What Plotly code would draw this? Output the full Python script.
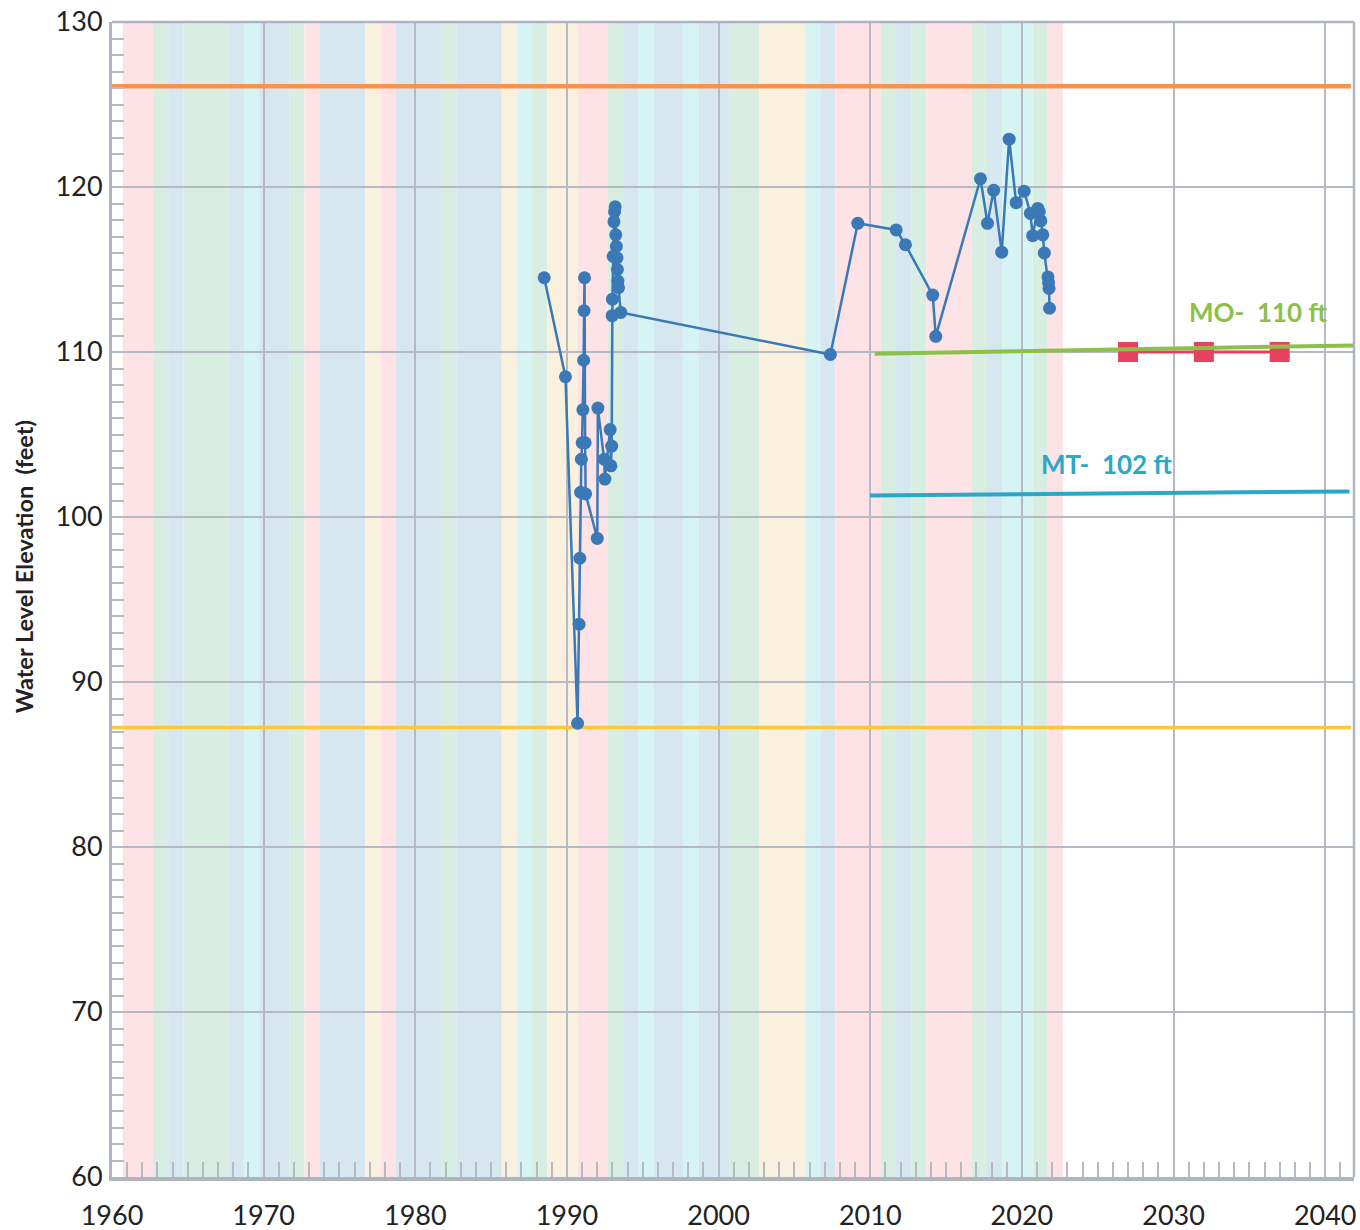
"""
Hydrograph - groundwater level elevation with water year type bands,
measurable objective / minimum threshold lines and interim milestones.
"""

import plotly.graph_objects as go


# Colour scheme
WELL_COLOR = "#3b78b6"
TOP_COLOR = "#f7934f"
BOTTOM_COLOR = "#fcc73f"
MO_COLOR = "#8dc04b"
MT_COLOR = "#2aa8c9"
IM_COLOR = "#e8405f"
GRID_COLOR = "#b4b9c3"
AXIS_COLOR = "#aeb5c0"
FONT = "Lato, 'Open Sans', sans-serif"

BAND_COLORS = {
    "W": "#fde2e6",   # pink
    "AN": "#d9eee2",  # green
    "BN": "#d7e7ef",  # blue-grey
    "D": "#d6f4f4",   # cyan
    "C": "#faf0de",   # cream
}

# Water year type bands (start year of each band, type)
band_start = [1960.7, 1962.7, 1963.7, 1964.7, 1967.7, 1968.7, 1969.7, 1971.7,
              1972.7, 1973.7, 1976.7, 1977.7, 1978.7, 1981.7, 1982.7, 1985.7,
              1986.7, 1987.7, 1988.7, 1990.7, 1992.7, 1993.7, 1994.7, 1995.7,
              1997.7, 1998.7, 2000.7, 2002.7, 2005.7, 2006.7, 2007.7, 2010.7,
              2011.7, 2012.7, 2013.7, 2016.7, 2017.7, 2018.7, 2020.7, 2021.7]
band_end_last = 2022.7
band_type = ["W", "AN", "BN", "AN", "BN", "D", "BN", "AN",
             "W", "BN", "C", "W", "BN", "AN", "BN", "C",
             "D", "AN", "C", "W", "AN", "BN", "D", "BN",
             "D", "BN", "AN", "C", "D", "BN", "W", "AN",
             "BN", "AN", "W", "AN", "BN", "D", "AN", "W"]

# Measured water levels
well_year = [1988.5, 1989.9, 1990.70, 1990.80, 1990.85, 1990.90, 1990.95,
             1991.00, 1991.05, 1991.10, 1991.13, 1991.16, 1991.20, 1991.23,
             1992.00, 1992.04, 1992.45, 1992.50, 1992.85, 1992.90, 1992.95,
             1992.98, 1993.00, 1993.05, 1993.10, 1993.14, 1993.18, 1993.22,
             1993.26, 1993.30, 1993.33, 1993.36, 1993.40, 1993.55,
             2007.37, 2009.18, 2011.71, 2012.32, 2014.12, 2014.32,
             2017.27, 2017.73, 2018.14, 2018.67, 2019.16, 2019.62, 2020.15,
             2020.56, 2020.71, 2021.05, 2021.15, 2021.25, 2021.38, 2021.48,
             2021.72, 2021.76, 2021.79, 2021.82]
well_level = [114.5, 108.5, 87.5, 93.5, 97.5, 101.5, 103.5,
              104.5, 106.5, 109.5, 112.5, 114.5, 104.5, 101.4,
              98.7, 106.6, 103.5, 102.3, 105.3, 103.1, 104.3,
              112.2, 113.2, 115.8, 117.9, 118.5, 118.8, 117.1,
              116.4, 115.7, 115.0, 114.3, 113.9, 112.4,
              109.85, 117.8, 117.4, 116.5, 113.45, 110.95,
              120.5, 117.8, 119.8, 116.05, 122.9, 119.05, 119.75,
              118.4, 117.05, 118.7, 118.5, 117.95, 117.1, 116.0,
              114.55, 114.2, 113.85, 112.65]

# Reference lines
top_year = [1960, 2041.7]
top_level = [126.1, 126.1]
bottom_year = [1960, 2041.7]
bottom_level = [87.25, 87.25]
mo_year = [2010.3, 2041.9]
mo_level = [109.9, 110.4]
mt_year = [2010.0, 2041.6]
mt_level = [101.3, 101.55]

# Interim milestones
im_year = [2027, 2032, 2037]
im_level = [110, 110, 110]

x_ticks = list(range(1960, 2041, 10))
y_ticks = list(range(60, 131, 10))


fig = go.Figure()

# Water year type bands
shapes = []
band_end = band_start[1:] + [band_end_last]
for x0, x1, t in zip(band_start, band_end, band_type):
    shapes.append(dict(
        type="rect", xref="x", yref="paper", x0=x0, x1=x1, y0=0, y1=1,
        fillcolor=BAND_COLORS[t], line=dict(width=0), layer="below"
    ))
# Top and right frame
shapes.append(dict(type="line", xref="paper", yref="paper", x0=0, x1=1, y0=1, y1=1,
                   line=dict(color=AXIS_COLOR, width=2.5), layer="above"))
shapes.append(dict(type="line", xref="paper", yref="paper", x0=1, x1=1, y0=0, y1=1,
                   line=dict(color=AXIS_COLOR, width=2.5), layer="above"))

fig.add_trace(go.Scatter(x=top_year, y=top_level, mode="lines",
                         line=dict(color=TOP_COLOR, width=4.5), showlegend=False))
fig.add_trace(go.Scatter(x=bottom_year, y=bottom_level, mode="lines",
                         line=dict(color=BOTTOM_COLOR, width=3.5), showlegend=False))
fig.add_trace(go.Scatter(x=mt_year, y=mt_level, mode="lines",
                         line=dict(color=MT_COLOR, width=4), showlegend=False))
fig.add_trace(go.Scatter(x=im_year, y=im_level, mode="lines+markers",
                         line=dict(color=IM_COLOR, width=3),
                         marker=dict(symbol="square", size=20, color=IM_COLOR),
                         showlegend=False))
fig.add_trace(go.Scatter(x=mo_year, y=mo_level, mode="lines",
                         line=dict(color=MO_COLOR, width=4), showlegend=False))
fig.add_trace(go.Scatter(x=well_year, y=well_level, mode="lines+markers",
                         line=dict(color=WELL_COLOR, width=2.5),
                         marker=dict(size=13, color=WELL_COLOR), showlegend=False))

fig.add_annotation(x=2035.6, y=112.4, text="MO-\u00a0 110 ft", showarrow=False,
                   font=dict(family=FONT, size=26, color=MO_COLOR, weight="bold"))
fig.add_annotation(x=2025.6, y=103.2, text="MT-\u00a0 102 ft", showarrow=False,
                   font=dict(family=FONT, size=26, color=MT_COLOR, weight="bold"))

# y-axis title sits a little above the middle of the axis in the original
fig.add_annotation(xref="paper", x=-0.071, xanchor="center", yref="y", y=97,
                   yanchor="middle",
                   text="<b>Water Level Elevation\u00a0 (feet)</b>",
                   textangle=-90, showarrow=False,
                   font=dict(family=FONT, size=23.5, color="#222222"))

fig.update_layout(
    width=1360,
    height=1230,
    paper_bgcolor="white",
    plot_bgcolor="white",
    margin=dict(l=112, r=6, t=22, b=53),
    font=dict(family=FONT, size=27, color="#222222"),
    shapes=shapes,
    xaxis=dict(
        range=[1960, 2041.9],
        tickvals=x_ticks,
        automargin=False,
        ticklabeloverflow="allow",
        showgrid=True, gridcolor=GRID_COLOR, gridwidth=1.5,
        showline=True, linecolor=AXIS_COLOR, linewidth=4,
        ticks="inside", ticklen=15, tickcolor=GRID_COLOR, tickwidth=1.5,
        minor=dict(dtick=1, tick0=1960, ticks="inside", ticklen=15,
                   tickcolor=GRID_COLOR, tickwidth=1.5, showgrid=False),
        ticklabelstandoff=12,
        zeroline=False,
    ),
    yaxis=dict(
        range=[60, 130],
        tickvals=y_ticks,
        automargin=False,
        ticklabeloverflow="allow",
        showgrid=True, gridcolor=GRID_COLOR, gridwidth=1.5,
        showline=True, linecolor=AXIS_COLOR, linewidth=3,
        ticks="inside", ticklen=12, tickcolor=GRID_COLOR, tickwidth=1.5,
        minor=dict(dtick=1, tick0=60, ticks="inside", ticklen=12,
                   tickcolor=GRID_COLOR, tickwidth=1.5, showgrid=False),
        ticklabelstandoff=1,
        zeroline=False,
    ),
)

# drop the default page margin so the figure fills the window exactly
fig.write_html("out.html",
               config={"displayModeBar": False},
               post_script="document.body.style.margin='0';"
                           "document.body.style.overflow='hidden';")
